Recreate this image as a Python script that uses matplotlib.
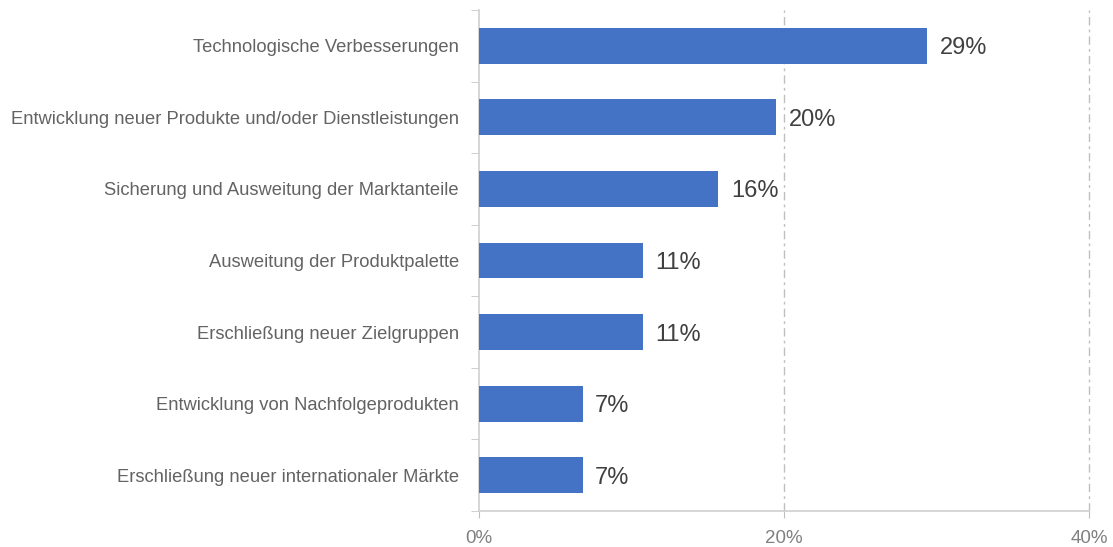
import matplotlib
matplotlib.use("Agg")
import matplotlib.pyplot as plt

categories = [
    "Technologische Verbesserungen",
    "Entwicklung neuer Produkte und/oder Dienstleistungen",
    "Sicherung und Ausweitung der Marktanteile",
    "Ausweitung der Produktpalette",
    "Erschließung neuer Zielgruppen",
    "Entwicklung von Nachfolgeprodukten",
    "Erschließung neuer internationaler Märkte",
]
shares = [29.4, 19.5, 15.7, 10.75, 10.75, 6.8, 6.8]
x_ticks = [0, 20, 40]

plt.rcParams["font.family"] = ["Liberation Sans", "DejaVu Sans"]

fig = plt.figure(figsize=(11.13, 5.47), dpi=100)
ax = fig.add_axes([479 / 1113, 1 - 511 / 547, (1089 - 479) / 1113, (511 - 10) / 547])

ypos = list(range(len(categories)))
ax.barh(ypos, shares, height=0.5, color="#4472C4", zorder=3)

for y, v in zip(ypos, shares):
    ax.annotate(f"{v:.0f}%", (v, y), xytext=(9, 0), textcoords="offset points",
                va="center_baseline", ha="left", fontsize=17, color="#404040")

ax.set_xlim(0, 40)
ax.set_ylim(len(categories) - 0.5, -0.5)

ax.set_xticks(x_ticks)
ax.set_xticklabels([f"{t}%" for t in x_ticks], fontsize=13.5, color="#808080")
ax.tick_params(axis="x", length=5, color="#bfbfbf", pad=8.5)

# category labels sit between boundary ticks
ax.set_yticks(ypos)
ax.set_yticklabels(categories, fontsize=13.2, color="#636363")
ax.tick_params(axis="y", length=0, pad=14.4)
ax.set_yticks([i - 0.5 for i in range(len(categories) + 1)], minor=True)
ax.tick_params(axis="y", which="minor", length=6, color="#c8c8c8")

for t in x_ticks[1:]:
    ax.axvline(t, color="#bfbfbf", lw=1, linestyle=(0, (6, 3, 2, 3)),
               zorder=1, clip_on=False)

for side in ["top", "right"]:
    ax.spines[side].set_visible(False)
for side in ["left", "bottom"]:
    ax.spines[side].set_color("#d0d0d0")
    ax.spines[side].set_linewidth(1.2)

fig.savefig("out.png", dpi=100)
